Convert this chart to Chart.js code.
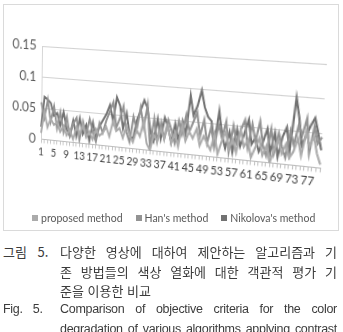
<!DOCTYPE html>
<html lang="ko">
<head>
    <meta charset="UTF-8">
    <title>Fig. 5</title>
    <style>
        body {
            margin: 0;
            width: 343px;
            height: 332px;
            overflow: hidden;
            background: #fff;
            position: relative;
        }

        .frame {
            position: absolute;
            left: 3px;
            top: 4px;
            width: 334px;
            height: 225px;
            border: 1px solid #dadada;
        }

        #chartBox {
            position: absolute;
            left: 0;
            top: 0;
            width: 343px;
            height: 200px;
        }

        #chart {
            transform-origin: 0 0;
        }

        .legend {
            position: absolute;
            left: 32px;
            top: 212px;
            display: flex;
            font-family: 'Lato', sans-serif;
            font-size: 10.5px;
            color: #595959;
        }

        .legend span.item {
            display: flex;
            align-items: center;
            margin-right: 13px;
        }

        .legend i {
            display: inline-block;
            width: 6px;
            height: 6px;
            margin-right: 3px;
        }

        .cap {
            position: absolute;
            left: 0;
            width: 343px;
            color: #3c3c3c;
            line-height: 19.5px;
        }

        .cap .lab {
            position: absolute;
            left: 3px;
            top: 0;
            word-spacing: 7px;
        }

        .cap .txt {
            position: absolute;
            left: 60px;
            top: 0;
            width: 277px;
        }

        .ko {
            font-family: 'Noto Sans CJK KR', sans-serif;
            font-size: 13px;
        }

        .en {
            font-family: 'Liberation Sans', sans-serif;
            font-size: 12.5px;
            letter-spacing: -0.3px;
        }

        .j {
            text-align: justify;
            text-align-last: justify;
        }
    </style>
    <script src="https://cdn.jsdelivr.net/npm/chart.js"></script>
</head>
<body>
    <div class="frame"></div>
    <div id="chartBox"><canvas id="chart" width="343" height="200"></canvas></div>
    <div class="legend" id="legend"></div>

    <div class="cap ko" style="top: 242px;">
        <span class="lab">그림 5.</span>
        <div class="txt">
            <div class="j">다양한 영상에 대하여 제안하는 알고리즘과 기</div>
            <div class="j">존 방법들의 색상 열화에 대한 객관적 평가 기</div>
            <div>준을 이용한 비교</div>
        </div>
    </div>
    <div class="cap en" style="top: 300px;">
        <span class="lab">Fig. 5.</span>
        <div class="txt">
            <div class="j">Comparison of objective criteria for the color</div>
            <div class="j">degradation of various algorithms applying contrast</div>
        </div>
    </div>

    <script>
        // data (80 test images)
        const categories = [1, 2, 3, 4, 5, 6, 7, 8, 9, 10, 11, 12, 13, 14, 15, 16, 17, 18, 19, 20,
            21, 22, 23, 24, 25, 26, 27, 28, 29, 30, 31, 32, 33, 34, 35, 36, 37, 38, 39, 40,
            41, 42, 43, 44, 45, 46, 47, 48, 49, 50, 51, 52, 53, 54, 55, 56, 57, 58, 59, 60,
            61, 62, 63, 64, 65, 66, 67, 68, 69, 70, 71, 72, 73, 74, 75, 76, 77, 78, 79, 80];

        const proposed = [0.01, 0.045, 0.02, 0.035, 0.025, 0.03, 0.015, 0.025, 0.01, 0.02,
            0.005, 0.025, 0.015, 0.03, 0.01, 0.02, 0.008, 0.025, 0.015, 0.02,
            0.03, 0.015, 0.04, 0.025, 0.03, 0.015, 0.035, 0.02, 0.01, 0.03,
            0.02, 0.045, 0.01, 0.0, 0.025, 0.015, 0.035, 0.02, 0.04, 0.015,
            0.03, 0.01, 0.045, 0.02, 0.035, 0.025, 0.04, 0.015, 0.03, 0.02,
            0.01, 0.035, 0.005, 0.025, 0.04, 0.015, 0.03, 0.01, 0.045, 0.02,
            0.03, 0.005, 0.02, 0.035, 0.01, 0.025, 0.0, 0.02, 0.035, 0.015,
            0.03, 0.01, 0.02, 0.04, 0.015, 0.05, 0.03, 0.045, 0.02, 0.005];

        const hans = [0.06, 0.035, 0.065, 0.03, 0.055, 0.02, 0.047, 0.015, 0.04, 0.01,
            0.03, 0.04, 0.005, 0.035, 0.015, 0.04, 0.02, 0.005, 0.035, 0.02,
            0.04, 0.055, 0.07, 0.03, 0.045, 0.065, 0.025, 0.01, 0.05, 0.03,
            0.065, 0.035, 0.07, 0.005, 0.05, 0.015, 0.045, 0.02, 0.05, 0.035,
            0.015, 0.05, 0.03, 0.06, 0.035, 0.05, 0.065, 0.03, 0.055, 0.02,
            0.045, 0.015, 0.05, 0.03, 0.055, 0.01, 0.05, 0.025, 0.045, 0.06,
            0.02, 0.055, 0.03, 0.06, 0.025, 0.01, 0.05, 0.015, 0.045, 0.025,
            0.01, 0.05, 0.03, 0.06, 0.045, 0.07, 0.02, 0.06, 0.035, 0.045];

        const nikolova = [0.02, 0.069, 0.065, 0.06, 0.04, 0.045, 0.025, 0.047, 0.02, 0.01,
            0.035, 0.01, 0.04, 0.015, 0.03, 0.005, 0.035, 0.01, 0.03, 0.04,
            0.05, 0.065, 0.04, 0.078, 0.065, 0.03, 0.054, 0.02, 0.015, 0.045,
            0.06, 0.077, 0.065, 0.03, 0.015, 0.05, 0.02, 0.053, 0.04, 0.015,
            0.045, 0.02, 0.05, 0.03, 0.09, 0.06, 0.075, 0.099, 0.074, 0.06,
            0.054, 0.02, 0.07, 0.035, 0.015, 0.04, 0.01, 0.045, 0.02, 0.04,
            0.061, 0.025, 0.035, 0.015, 0.03, 0.05, 0.015, 0.045, 0.01, 0.04,
            0.055, 0.02, 0.099, 0.07, 0.03, 0.045, 0.06, 0.072, 0.05, 0.026];

        const yTicks = [0, 0.05, 0.1, 0.15];
        const seriesNames = ['proposed method', "Han's method", "Nikolova's method"];
        const seriesColors = ['#ababab', '#939393', '#727272'];

        // where the plot rectangle lands on the page (the Excel 3-D perspective)
        const wallTopLeft = [42, 46], wallTopRight = [327, 64];
        const floorLeft = [41, 139], floorRight = [320, 168];

        const series = [proposed, hans, nikolova];

        const chart = new Chart(document.getElementById('chart'), {
            type: 'line',
            data: {
                labels: categories,
                datasets: series.map((d, i) => ({
                    label: seriesNames[i],
                    data: d,
                    borderColor: seriesColors[i],
                    backgroundColor: seriesColors[i],
                    borderWidth: 2,
                    pointRadius: 0,
                    tension: 0
                }))
            },
            options: {
                responsive: false,
                animation: false,
                devicePixelRatio: 1,
                layout: { padding: { top: 46, right: 23, bottom: 39, left: 0 } },
                plugins: { legend: { display: false }, tooltip: { enabled: false } },
                scales: {
                    x: {
                        offset: false,
                        grid: { drawOnChartArea: false, drawTicks: true, tickLength: 4, color: '#c4c4c4' },
                        border: { color: '#bdbdbd' },
                        ticks: {
                            autoSkip: false,
                            maxRotation: 0,
                            minRotation: 0,
                            padding: 3,
                            color: '#404040',
                            font: { family: 'Lato', size: 10.5 },
                            callback: (v, i) => i % 4 === 0 ? categories[i] : ''
                        }
                    },
                    y: {
                        min: 0,
                        max: 0.15,
                        afterBuildTicks: s => { s.ticks = yTicks.map(v => ({ value: v })); },
                        afterFit: s => { s.width = 42; },
                        grid: { color: '#d2d2d2', drawTicks: false },
                        border: { color: '#d2d2d2' },
                        ticks: {
                            padding: 6,
                            color: '#595959',
                            font: { family: 'Lato', size: 13.5 },
                            callback: v => String(v)
                        }
                    }
                }
            }
        });

        // solve the 4-point homography so the flat chart takes the tilted look
        function homography(src, dst) {
            const A = [], b = [];
            for (let i = 0; i < 4; i++) {
                const [x, y] = src[i], [u, v] = dst[i];
                A.push([x, y, 1, 0, 0, 0, -u * x, -u * y]); b.push(u);
                A.push([0, 0, 0, x, y, 1, -v * x, -v * y]); b.push(v);
            }
            for (let c = 0; c < 8; c++) {
                let p = c;
                for (let r = c + 1; r < 8; r++) if (Math.abs(A[r][c]) > Math.abs(A[p][c])) p = r;
                [A[c], A[p]] = [A[p], A[c]];
                [b[c], b[p]] = [b[p], b[c]];
                for (let r = 0; r < 8; r++) {
                    if (r === c) continue;
                    const f = A[r][c] / A[c][c];
                    for (let k = c; k < 8; k++) A[r][k] -= f * A[c][k];
                    b[r] -= f * b[c];
                }
            }
            return b.map((v, i) => v / A[i][i]);
        }

        const area = chart.chartArea;
        const yTop = chart.scales.y.getPixelForValue(0.15);
        const yBot = chart.scales.y.getPixelForValue(0);
        const h = homography(
            [[area.left, yTop], [area.right, yTop], [area.left, yBot], [area.right, yBot]],
            [wallTopLeft, wallTopRight, floorLeft, floorRight]
        );
        chart.canvas.style.transform = `matrix3d(${h[0]},${h[3]},0,${h[6]},${h[1]},${h[4]},0,${h[7]},0,0,1,0,${h[2]},${h[5]},0,1)`;

        // legend built from the chart datasets
        const legend = document.getElementById('legend');
        chart.data.datasets.forEach(ds => {
            const item = document.createElement('span');
            item.className = 'item';
            item.innerHTML = `<i style="background:${ds.backgroundColor}"></i>${ds.label}`;
            legend.appendChild(item);
        });
    </script>
</body>
</html>
